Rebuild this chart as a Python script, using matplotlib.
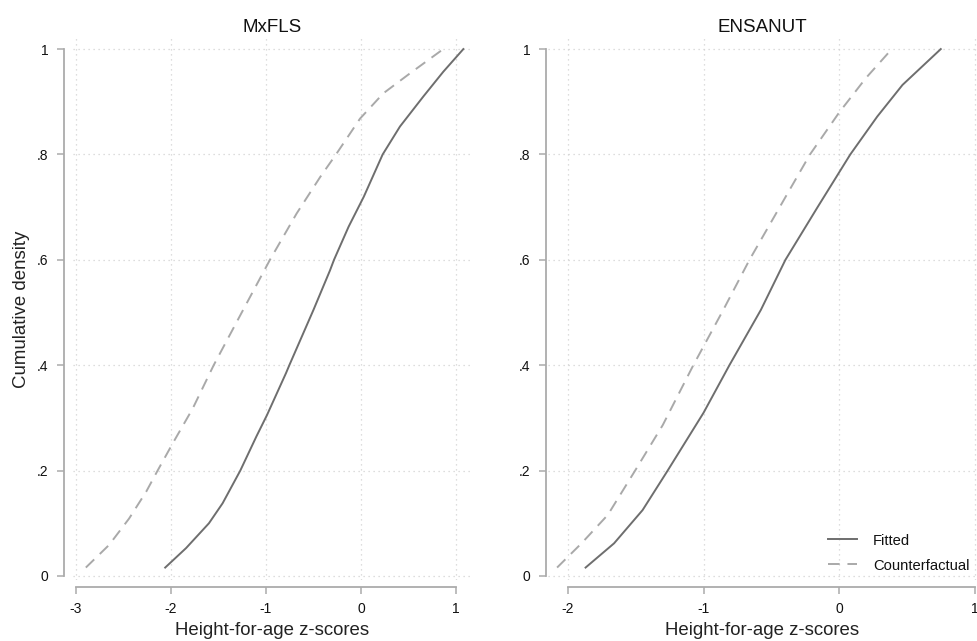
import numpy as np
import matplotlib.pyplot as plt

plt.rcParams['font.family'] = ['Liberation Sans', 'DejaVu Sans']

# MxFLS: z-score (x) vs cumulative density (y)
mx_fit_x = [-2.06, -1.84, -1.60, -1.456, -1.27, -1.10, -0.99, -0.789, -0.754, -0.50,
            -0.326, -0.284, -0.13, 0.03, 0.228, 0.41, 0.656, 0.866, 1.077]
mx_fit_y = [0.016, 0.053, 0.100, 0.138, 0.20, 0.265, 0.305, 0.385, 0.40, 0.505,
            0.58, 0.60, 0.663, 0.72, 0.80, 0.853, 0.91, 0.957, 1.0]
mx_cf_x = [-2.895, -2.65, -2.44, -2.26, -2.14, -1.98, -1.77, -1.55, -1.24, -0.958,
           -0.677, -0.43, -0.263, -0.01, 0.235, 0.516, 0.866]
mx_cf_y = [0.016, 0.059, 0.109, 0.16, 0.20, 0.252, 0.318, 0.40, 0.505, 0.60,
           0.688, 0.757, 0.80, 0.868, 0.916, 0.954, 1.0]

# ENSANUT
en_fit_x = [-1.87, -1.66, -1.45, -1.27, -1.0, -0.81, -0.578, -0.397,
            -0.16, 0.081, 0.28, 0.466, 0.748]
en_fit_y = [0.016, 0.062, 0.125, 0.198, 0.31, 0.40, 0.505, 0.60,
            0.70, 0.80, 0.872, 0.932, 1.0]
en_cf_x = [-2.08, -1.90, -1.706, -1.505, -1.301, -1.076, -0.855, -0.662, -0.368,
           -0.216, 0.0, 0.196, 0.387]
en_cf_y = [0.016, 0.062, 0.116, 0.20, 0.2865, 0.40, 0.505, 0.60, 0.732,
           0.80, 0.88, 0.945, 1.0]

yticks = [0, 0.2, 0.4, 0.6, 0.8, 1.0]
ytick_labels = ['0', '.2', '.4', '.6', '.8', '1']

W, H = 977, 641
fig = plt.figure(figsize=(W / 100, H / 100), dpi=100)


def px_axes(left, right, top, bottom):
    return fig.add_axes([left / W, 1 - bottom / H, (right - left) / W, (bottom - top) / H])


ax1 = px_axes(73, 472, 38, 580)
ax2 = px_axes(548, 977, 38, 580)

solid_c = '#6e6e6e'
dash_c = '#a9a9a9'
spine_c = '#ababab'
grid_c = '#d2d2d2'


def style(ax, xlim, xticks, title, spine_out):
    ax.set_xlim(*xlim)
    ax.set_ylim(-0.0076, 1.021)
    ax.set_xticks(xticks)
    ax.set_xticklabels([str(t) for t in xticks])
    ax.set_yticks(yticks)
    ax.set_yticklabels(ytick_labels)
    ax.grid(True, linestyle=(0, (1, 3)), color=grid_c, linewidth=0.9)
    for s in ['top', 'right']:
        ax.spines[s].set_visible(False)
    ax.spines['left'].set_position(('outward', spine_out))
    ax.spines['bottom'].set_position(('outward', 5))
    ax.spines['left'].set_bounds(0, 1)
    ax.spines['bottom'].set_bounds(xticks[0], xticks[-1])
    for s in ['left', 'bottom']:
        ax.spines[s].set_color(spine_c)
        ax.spines[s].set_linewidth(1.3)
    ax.tick_params(axis='both', colors=spine_c, width=1.1, length=5,
                   labelsize=10, labelcolor='#111111', pad=6)
    ax.set_title(title, fontsize=13.5, color='#111111', pad=4)
    ax.set_xlabel('Height-for-age z-scores', fontsize=13.4, color='#222222', labelpad=4)


ax1.plot(mx_fit_x, mx_fit_y, color=solid_c, lw=1.4, label='Fitted')
ax1.plot(mx_cf_x, mx_cf_y, color=dash_c, lw=1.4, dashes=(6, 4), label='Counterfactual')
style(ax1, (-3.03, 1.168), [-3, -2, -1, 0, 1], 'MxFLS', 6.5)
ax1.set_ylabel('Cumulative density', fontsize=13.4, color='#222222', labelpad=5)

ax2.plot(en_fit_x, en_fit_y, color=solid_c, lw=1.4, label='Fitted')
ax2.plot(en_cf_x, en_cf_y, color=dash_c, lw=1.4, dashes=(6, 4), label='Counterfactual')
style(ax2, (-2.147, 1.015), [-2, -1, 0, 1], 'ENSANUT', 1.5)

leg = ax2.legend(loc='lower right', bbox_to_anchor=(1.0, 0.0), frameon=False,
                 fontsize=10.6, handlelength=2.0, handletextpad=1.1, labelspacing=0.75,
                 borderaxespad=0.1)
for t in leg.get_texts():
    t.set_color('#111111')

fig.savefig('out.png', dpi=100)
